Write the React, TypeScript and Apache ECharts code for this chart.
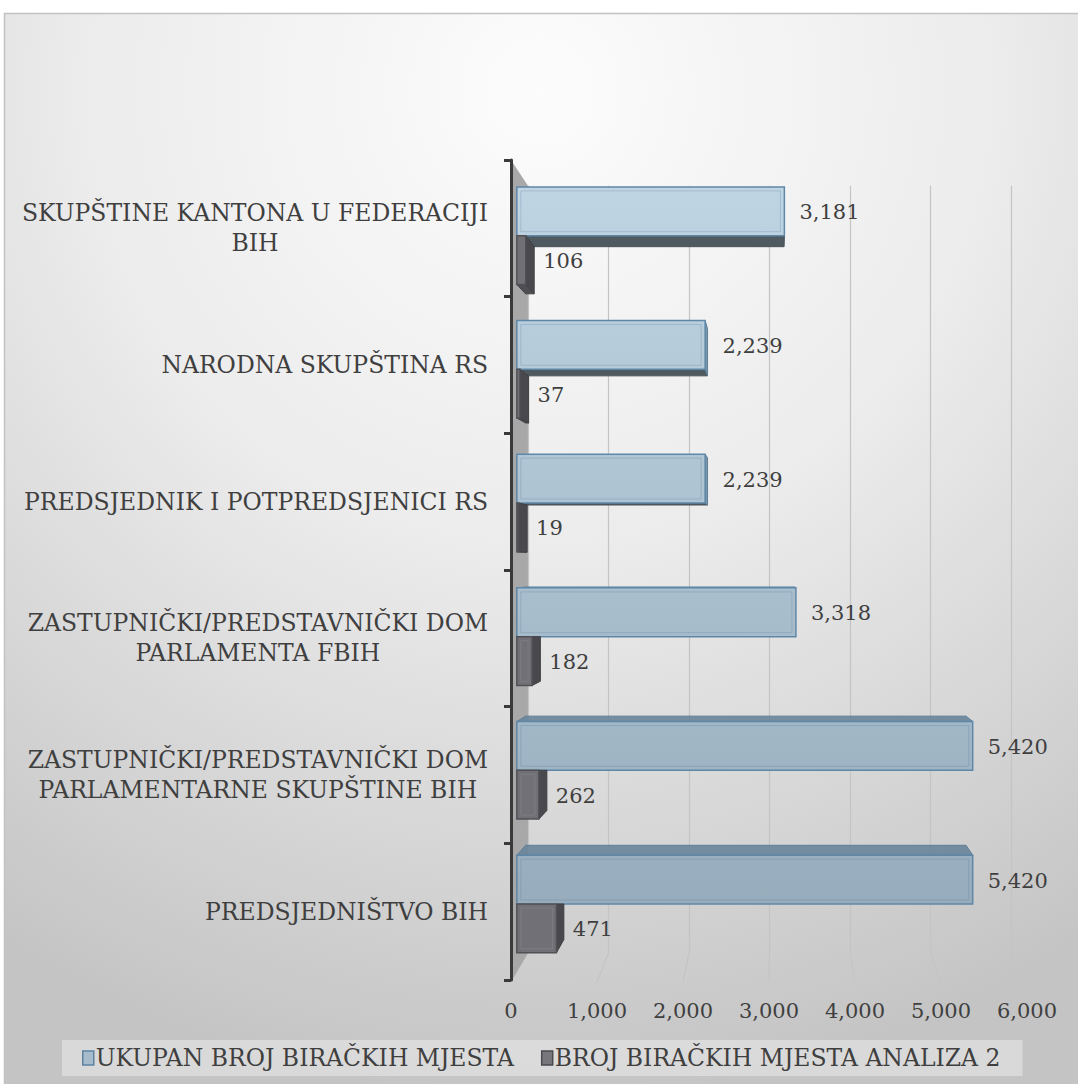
import React, { useEffect, useRef } from "react";
import * as echarts from "echarts";

// ---------- data ----------
const categories = [
  "SKUPŠTINE KANTONA U FEDERACIJI\nBIH",
  "NARODNA SKUPŠTINA RS",
  "PREDSJEDNIK I POTPREDSJENICI RS",
  "ZASTUPNIČKI/PREDSTAVNIČKI DOM\nPARLAMENTA FBIH",
  "ZASTUPNIČKI/PREDSTAVNIČKI DOM\nPARLAMENTARNE SKUPŠTINE BIH",
  "PREDSJEDNIŠTVO BIH",
];
const ukupanValues = [3181, 2239, 2239, 3318, 5420, 5420];
const analizaValues = [106, 37, 19, 182, 262, 471];
const seriesNames = ["UKUPAN BROJ BIRAČKIH MJESTA", "BROJ BIRAČKIH MJESTA ANALIZA 2"];
const valueTicks = [0, 1000, 2000, 3000, 4000, 5000, 6000];

// ---------- layout / style ----------
const W = 1078;
const H = 1084;
const FONT = "DejaVu Serif";
const TEXT = "#3f3f3f";
const G_LEFT = 511;
const G_RIGHT = 51;
const G_TOP = 160;
const G_BOTTOM = 104;
const VPX = 776;
const VPY = 562;
const KF = 0.978;
const KB = 0.945;
const KW = 0.936;
const BAR_FRAC = 0.365;
const CAT_FONT = 23.5;
const NUM_FONT = 21;

const persp = (x: number, y: number, k: number) => [VPX + k * (x - VPX), VPY + k * (y - VPY)];
const fmt = (v: number) => v.toLocaleString("en-US");

const blueFront = new echarts.graphic.LinearGradient(0, G_TOP, 0, H - G_BOTTOM, [
  { offset: 0, color: "#c1d6e5" },
  { offset: 1, color: "#93a8b8" },
], true);

function makeRender(s: number) {
  return (params: any, api: any) => {
    const v = api.value(0);
    const ci = api.value(1);
    const base = api.coord([0, ci]);
    const end = api.coord([v, ci]);
    const band = api.size([0, 1])[1];
    const h = band * BAR_FRAC;
    const yTop = s === 0 ? base[1] - h : base[1];
    const yBot = yTop + h;
    const x0 = base[0];
    const x1 = end[0];
    const F00 = persp(x0, yTop, KF), F10 = persp(x1, yTop, KF), F11 = persp(x1, yBot, KF), F01 = persp(x0, yBot, KF);
    const B00 = persp(x0, yTop, KB), B10 = persp(x1, yTop, KB), B11 = persp(x1, yBot, KB), B01 = persp(x0, yBot, KB);
    const children: any[] = [];
    const isBlue = s === 0;
    if (isBlue && yTop > VPY) {
      children.push({
        type: "polygon",
        shape: { points: [F00, F10, B10, B00] },
        style: { fill: "rgba(104,132,154,0.9)", stroke: "#5e7f99", lineWidth: 1 },
      });
    }
    if (yBot < VPY) {
      children.push({
        type: "polygon",
        shape: { points: [F01, F11, B11, B01] },
        style: { fill: isBlue ? "#4f5960" : "#4e4e53", stroke: isBlue ? "#46525a" : "#444448", lineWidth: 1 },
      });
    }
    if (x1 < VPX) {
      const topBack = [B10[0], !isBlue && B10[1] < F10[1] ? F10[1] : B10[1]];
      children.push({
        type: "polygon",
        shape: { points: [F10, F11, B11, topBack] },
        style: { fill: isBlue ? "#7d96a9" : "#48484d", stroke: isBlue ? "#5e7f99" : "#404044", lineWidth: 1 },
      });
    }
    children.push({
      type: "rect",
      shape: { x: F00[0], y: F00[1], width: F10[0] - F00[0], height: F01[1] - F00[1] },
      style: isBlue
        ? { fill: blueFront, stroke: "#5f87a7", lineWidth: 1.5 }
        : { fill: "#707076", stroke: "#505055", lineWidth: 1.5 },
    });
    const ins = 4;
    if (F10[0] - F00[0] > 2 * ins + 2) {
      children.push({
        type: "rect",
        shape: { x: F00[0] + ins, y: F00[1] + ins, width: F10[0] - F00[0] - 2 * ins, height: F01[1] - F00[1] - 2 * ins },
        style: { fill: "none", stroke: isBlue ? "rgba(90,125,155,0.28)" : "rgba(150,150,155,0.35)", lineWidth: 1 },
      });
    }
    const labelX = Math.max(F10[0], B10[0]) + (isBlue ? 15 : 9);
    children.push({
      type: "text",
      x: labelX,
      y: (F00[1] + F01[1]) / 2 + 1,
      style: {
        text: fmt(v),
        fill: TEXT,
        fontSize: NUM_FONT,
        fontFamily: FONT,
        align: "left",
        verticalAlign: "middle",
      },
    });
    return { type: "group", children };
  };
}

export default function App() {
  const ref = useRef<HTMLDivElement>(null);
  useEffect(() => {
    if (!ref.current) return;
    const chart = echarts.init(ref.current, undefined, { renderer: "svg" });
    const backLeft = VPX + KW * (G_LEFT - VPX);
    const backRight = VPX + KW * (W - G_RIGHT - VPX);
    const backTop = VPY + KW * (G_TOP - VPY);
    const backBottom = VPY + KW * (H - G_BOTTOM - VPY);
    const option: any = {
      animation: false,
      grid: [
        { left: G_LEFT, right: G_RIGHT, top: G_TOP, bottom: G_BOTTOM, containLabel: false },
        { left: backLeft, right: W - backRight, top: backTop, bottom: H - backBottom, containLabel: false },
      ],
      xAxis: [
        {
          type: "value",
          gridIndex: 0,
          min: valueTicks[0],
          max: valueTicks[valueTicks.length - 1],
          interval: 1000,
          axisLine: { show: false },
          axisTick: { show: false },
          splitLine: { show: false },
          axisLabel: {
            formatter: (v: number) => fmt(v),
            fontFamily: FONT,
            fontSize: NUM_FONT,
            color: TEXT,
            margin: 20,
          },
        },
        {
          type: "value",
          gridIndex: 1,
          min: valueTicks[0],
          max: valueTicks[valueTicks.length - 1],
          interval: 1000,
          axisLine: { show: false },
          axisTick: { show: false },
          axisLabel: { show: false },
          splitLine: { show: true, lineStyle: { color: "#c4c4c4", width: 1.2 } },
        },
      ],
      yAxis: [
        {
          type: "category",
          gridIndex: 0,
          inverse: true,
          data: categories,
          z: 5,
          axisLine: { show: true, lineStyle: { color: "#3a3a3a", width: 3 } },
          axisTick: { show: true, length: 7, lineStyle: { color: "#3a3a3a", width: 3 } },
          axisLabel: {
            margin: 23,
            formatter: (v: string) => v.split("\n").map((l) => `{c|${l}}`).join("\n"),
            rich: {
              c: { align: "center", fontFamily: FONT, fontSize: CAT_FONT, color: TEXT, lineHeight: 30 },
            },
          },
        },
        { type: "value", gridIndex: 1, show: false, min: 0, max: 1 },
      ],
      legend: {
        top: 1040,
        left: 62,
        icon: "rect",
        itemWidth: 11,
        itemHeight: 14,
        itemGap: 27,
        padding: [6, 22, 6, 20],
        backgroundColor: "rgba(232,232,232,0.6)",
        textStyle: { fontFamily: FONT, fontSize: CAT_FONT, color: TEXT, padding: [0, 0, 0, -3] },
        data: [
          { name: seriesNames[0], itemStyle: { color: "#a6bccc", borderColor: "#5c82a2", borderWidth: 1.5 } },
          { name: seriesNames[1], itemStyle: { color: "#77777c", borderColor: "#4a4a4f", borderWidth: 1.5 } },
        ],
      },
      graphic: [
        {
          type: "rect",
          z: -100,
          silent: true,
          shape: { x: 4.5, y: 13.5, width: W, height: H },
          style: {
            fill: new echarts.graphic.RadialGradient(540, 90, 1010, [
              { offset: 0, color: "#fcfcfc" },
              { offset: 0.45, color: "#ececec" },
              { offset: 1, color: "#c4c4c4" },
            ], true),
            stroke: "#c2c2c2",
            lineWidth: 1.5,
          },
        },
        {
          type: "polygon",
          z: 1,
          silent: true,
          shape: {
            points: [
              [G_LEFT, G_TOP],
              [backLeft, backTop],
              [backLeft, backBottom],
              [G_LEFT, H - G_BOTTOM + 2],
            ],
          },
          style: { fill: "#a8a8a8" },
        },
      ],
      series: [
        {
          type: "custom",
          name: seriesNames[0],
          xAxisIndex: 0,
          yAxisIndex: 0,
          z: 2,
          itemStyle: { color: "#a6bccc" },
          renderItem: makeRender(0),
          encode: { x: 0, y: 1 },
          data: ukupanValues.map((v, i) => [v, i]),
        },
        {
          type: "custom",
          name: seriesNames[1],
          xAxisIndex: 0,
          yAxisIndex: 0,
          z: 3,
          itemStyle: { color: "#77777c" },
          renderItem: makeRender(1),
          encode: { x: 0, y: 1 },
          data: analizaValues.map((v, i) => [v, i]),
        },
      ],
    };
    chart.setOption(option);
    const floor = valueTicks.slice(1).map((t) => {
      const xb = chart.convertToPixel({ xAxisIndex: 1 }, t) as number;
      const xf = chart.convertToPixel({ xAxisIndex: 0 }, t) as number;
      return {
        type: "line",
        z: 0,
        silent: true,
        shape: { x1: xb, y1: backBottom, x2: xf, y2: H - G_BOTTOM + 2 },
        style: { stroke: "#c4c4c4", lineWidth: 1.2 },
      };
    });
    chart.setOption({ graphic: [...option.graphic, ...floor] });
    return () => chart.dispose();
  }, []);
  return <div ref={ref} style={{ position: "absolute", left: 0, top: 0, width: W, height: H }} />;
}
